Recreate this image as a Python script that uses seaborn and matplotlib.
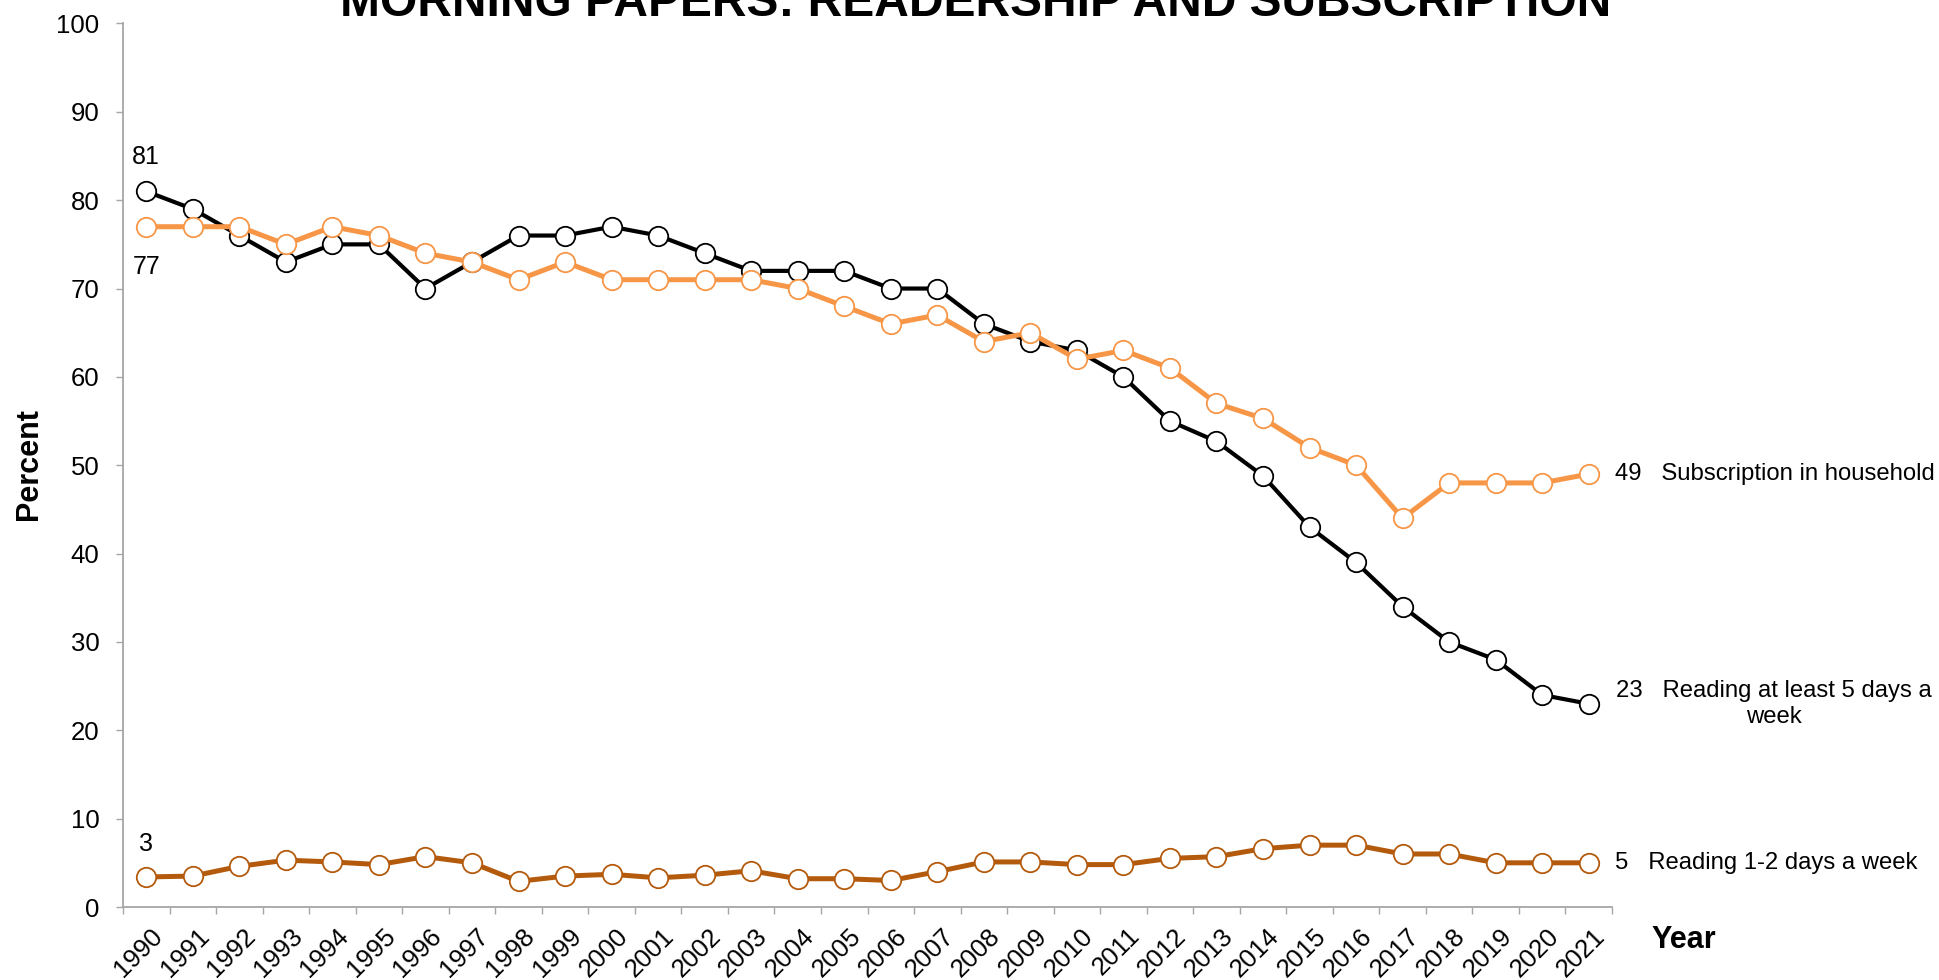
import numpy as np
import pandas as pd
import matplotlib
matplotlib.use("Agg")
import matplotlib.pyplot as plt
import matplotlib.transforms as mtransforms
import seaborn as sns

# ---- data -------------------------------------------------------------
years = list(range(1990, 2022))
reading_5_days = [81, 79, 76, 73, 75, 75, 70, 73, 76, 76,
                  77, 76, 74, 72, 72, 72, 70, 70, 66, 64,
                  63, 60, 55, 52.7, 48.8, 43, 39, 34, 30, 28,
                  24, 23]
subscription = [77, 77, 77, 75, 77, 76, 74, 73, 71, 73,
                71, 71, 71, 71, 70, 68, 66, 67, 64, 65,
                62, 63, 61, 57, 55.3, 52, 50, 44, 48, 48,
                48, 49]
reading_1_2_days = [3.4, 3.5, 4.6, 5.3, 5.1, 4.8, 5.7, 5.0, 2.9, 3.5,
                    3.7, 3.3, 3.6, 4.1, 3.2, 3.2, 3.0, 4.0, 5.1, 5.1,
                    4.8, 4.8, 5.5, 5.7, 6.6, 7.0, 7.0, 6.0, 6.0, 5.0,
                    5.0, 5.0]
y_ticks = list(range(0, 101, 10))

title = "MORNING PAPERS: READERSHIP AND SUBSCRIPTION"
name_sub = "Subscription in household"
name_5 = "Reading at least 5 days a week"
name_12 = "Reading 1-2 days a week"

# ---- style ------------------------------------------------------------
sns.set_style("white")
plt.rcParams["font.family"] = ["Liberation Sans", "DejaVu Sans"]
plt.rcParams["text.color"] = "black"
plt.rcParams["xtick.labelcolor"] = "black"
plt.rcParams["ytick.labelcolor"] = "black"

W, H = 1940, 980
fig = plt.figure(figsize=(W / 100, H / 100), dpi=100)
ax = fig.add_axes([123 / W, 1 - 907 / H, (1612 - 123) / W, (907 - 23.5) / H])

pos = np.arange(len(years))
df = pd.DataFrame({"pos": pos,
                   "r12": reading_1_2_days,
                   "r5": reading_5_days,
                   "sub": subscription})

BLACK = "#000000"
ORANGE = "#f79646"
BROWN = "#b45a0d"

common = dict(marker="o", markersize=14, markerfacecolor="white",
              markeredgewidth=1.3, estimator=None, legend=False)
sns.lineplot(data=df, x="pos", y="r12", color=BROWN, linewidth=3.6,
             markeredgecolor=BROWN, ax=ax, zorder=3, **common)
sns.lineplot(data=df, x="pos", y="r5", color=BLACK, linewidth=3.0,
             markeredgecolor=BLACK, ax=ax, zorder=4, **common)
sns.lineplot(data=df, x="pos", y="sub", color=ORANGE, linewidth=3.6,
             markeredgecolor=ORANGE, ax=ax, zorder=5, **common)

# ---- axes -------------------------------------------------------------
ax.set_xlim(-0.5, len(years) - 0.5)
ax.set_ylim(0, 100)
ax.set_xlabel("")
ax.set_ylabel("")

for s in ["top", "right"]:
    ax.spines[s].set_visible(False)
for s in ["left", "bottom"]:
    ax.spines[s].set_color("#a6a6a6")
    ax.spines[s].set_linewidth(1.3)

ax.set_yticks(y_ticks)
ax.set_yticklabels([str(v) for v in y_ticks], fontsize=18.5)
ax.tick_params(axis="y", direction="out", length=5, width=1,
               color="#a6a6a6", pad=12, left=True)

# category boundaries carry tick marks, category centres carry the labels
ax.set_xticks(np.arange(-0.5, len(years), 1.0))
ax.set_xticklabels([])
ax.tick_params(axis="x", which="major", direction="out", length=5,
               width=1, color="#a6a6a6", bottom=True)
ax.set_xticks(pos, minor=True)
ax.set_xticklabels([str(y) for y in years], minor=True, fontsize=18.5,
                   rotation=45, ha="right", va="top",
                   rotation_mode="anchor")
ax.tick_params(axis="x", which="minor", length=0, pad=12)
shift = mtransforms.ScaledTranslation(3 / 72, 0, fig.dpi_scale_trans)
for lab in ax.get_xticklabels(minor=True):
    lab.set_transform(lab.get_transform() + shift)

ax.grid(False)

# ---- value labels -------------------------------------------------------
ax.annotate(f"{reading_5_days[0]:.0f}", (pos[0], reading_5_days[0]),
            xytext=(0, 25), textcoords="offset points",
            ha="center", va="center", fontsize=18)
ax.annotate(f"{subscription[0]:.0f}", (pos[0], subscription[0]),
            xytext=(0, -29), textcoords="offset points",
            ha="center", va="center", fontsize=18)
ax.annotate(f"{reading_1_2_days[0]:.0f}", (pos[0], reading_1_2_days[0]),
            xytext=(0, 24), textcoords="offset points",
            ha="center", va="center", fontsize=18)

blend = mtransforms.blended_transform_factory(fig.transFigure, ax.transData)
ax.text(1615 / W, subscription[-1],
        f"{subscription[-1]:.0f}   {name_sub}",
        transform=blend, ha="left", va="center", fontsize=17.2, clip_on=False)
words = name_5.rsplit(" ", 1)
ax.text(1774 / W, reading_5_days[-1],
        f"{reading_5_days[-1]:.0f}   {words[0]}\n{words[1]}",
        transform=blend, ha="center", va="center", multialignment="center",
        fontsize=17.2, linespacing=1.25, clip_on=False)
ax.text(1615 / W, reading_1_2_days[-1],
        f"{reading_1_2_days[-1]:.0f}   {name_12}",
        transform=blend, ha="left", va="center", fontsize=17.2, clip_on=False)

# ---- titles -------------------------------------------------------------
fig.text(976 / W, 1 - 16 / H, title, ha="center", va="baseline",
         fontsize=34.5, fontweight="bold")
fig.text(29 / W, 1 - 464 / H, "Percent", rotation=90, ha="center",
         va="center", fontsize=22, fontweight="bold")
fig.text(1684 / W, 1 - 940 / H, "Year", ha="center", va="center",
         fontsize=22, fontweight="bold")

fig.savefig("out.png", dpi=100, facecolor="white")
